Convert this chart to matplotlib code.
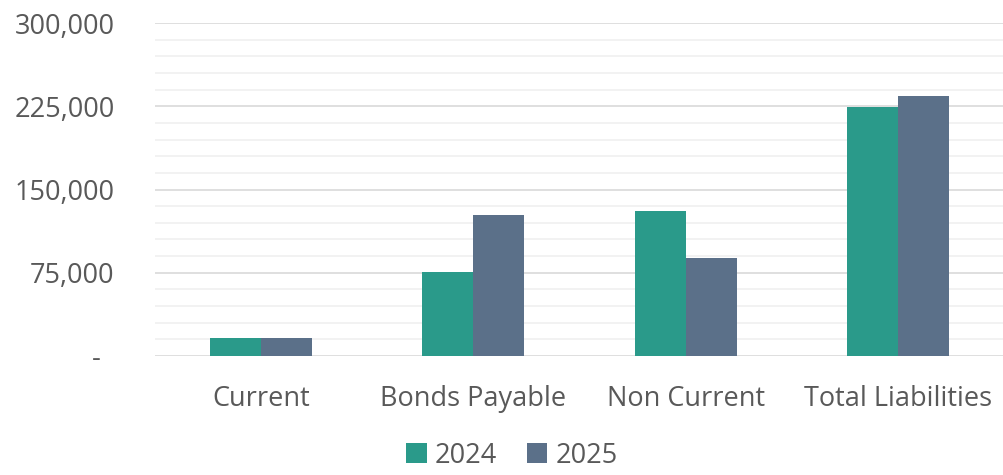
import matplotlib
matplotlib.use("Agg")
import matplotlib.pyplot as plt
from matplotlib.ticker import MultipleLocator, FixedLocator
import numpy as np

categories = ["Current", "Bonds Payable", "Non Current", "Total Liabilities"]
series_names = ["2024", "2025"]
values_2024 = [16000, 76000, 130500, 224500]
values_2025 = [16500, 127000, 88000, 234000]
ytick_values = [0, 75000, 150000, 225000, 300000]
ytick_labels = ["-  ", "75,000", "150,000", "225,000", "300,000"]

colors = ["#2A9A8A", "#5B7089"]
text_color = "#595959"

plt.rcParams['font.family'] = ['Open Sans', 'DejaVu Sans']

fig = plt.figure(figsize=(10.04, 4.75), dpi=100)
ax = fig.add_axes([155/1004, 119/475, (1004-155)/1004, (356-23)/475])

x = np.arange(len(categories))
w = 0.24
ax.bar(x - w/2, values_2024, width=w, color=colors[0], label=series_names[0], zorder=3)
ax.bar(x + w/2, values_2025, width=w, color=colors[1], label=series_names[1], zorder=3)

ax.set_xlim(-0.5, len(categories) - 0.5)
ax.set_ylim(0, 300000)
ax.yaxis.set_major_locator(FixedLocator(ytick_values))
ax.set_yticklabels(ytick_labels)
ax.yaxis.set_minor_locator(MultipleLocator(15000))
ax.grid(axis='y', which='major', color='#D9D9D9', linewidth=1.2, zorder=0)
ax.grid(axis='y', which='minor', color='#F0F0F0', linewidth=1.2, zorder=0)
ax.set_xticks(x)
ax.set_xticklabels(categories)
ax.tick_params(axis='both', which='both', length=0, labelsize=19.5, colors=text_color)
ax.tick_params(axis='y', pad=29)
ax.tick_params(axis='x', pad=21)
for s in ax.spines.values():
    s.set_visible(False)

leg = fig.legend(loc='lower center', bbox_to_anchor=(0.51, -0.04), ncol=2, frameon=False,
                 fontsize=19.5, handlelength=0.75, handleheight=0.75, handletextpad=0.3,
                 columnspacing=1.1)
for t in leg.get_texts():
    t.set_color(text_color)

fig.savefig("out.png", dpi=100)
